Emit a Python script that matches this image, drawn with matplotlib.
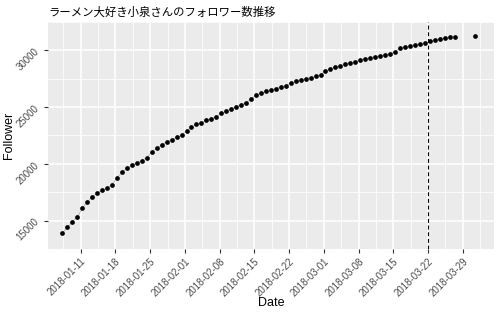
import matplotlib
matplotlib.use("Agg")
import matplotlib.pyplot as plt
import matplotlib.dates as mdates
import numpy as np
import pandas as pd

plt.rcParams['font.family'] = ['Noto Sans CJK JP', 'DejaVu Sans']

# ---- data ----
start_dates = pd.date_range("2018-01-07 08:00", "2018-03-27 08:00", freq="D")
followers_daily = [
    13925, 14400, 14908, 15295, 16110, 16640, 17060, 17440, 17665, 17875,
    18170, 18785, 19250, 19595, 19865, 20100, 20285, 20550, 21050, 21370,
    21680, 21935, 22135, 22330, 22520, 22890, 23225, 23480, 23645, 23840,
    23985, 24120, 24455, 24655, 24840, 25045, 25215, 25395, 25690, 26050,
    26250, 26385, 26500, 26640, 26780, 26890, 27120, 27260, 27370, 27510,
    27595, 27705, 27830, 28180, 28380, 28500, 28655, 28770, 28880, 28990,
    29135, 29245, 29360, 29445, 29530, 29615, 29720, 29890, 30170, 30310,
    30395, 30470, 30540, 30620, 30790, 30955, 31010, 31095, 31175, 31210,
]
extra_date = [pd.Timestamp("2018-03-31 12:00")]
extra_follower = [31295]
vline_date = pd.Timestamp("2018-03-22")
x_ticks = pd.date_range("2018-01-11", "2018-03-29", freq="7D")
y_ticks = [15000, 20000, 25000, 30000]
title = "ラーメン大好き小泉さんのフォロワー数推移"

dates = list(start_dates) + extra_date
values = followers_daily + extra_follower

fig = plt.figure(figsize=(5.0, 3.13), dpi=100)
W, H = 500, 313
L, R, T, B = 48, 494, 22, 249
ax = fig.add_axes([L / W, 1 - B / H, (R - L) / W, (B - T) / H])
ax.set_facecolor("#EBEBEB")
for s in ax.spines.values():
    s.set_visible(False)

# limits (ggplot-like expansion)
vmin, vmax = min(values), max(values)
pad = 0.05 * (vmax - vmin)
ax.set_ylim(vmin - pad, vmax + pad)
x0 = mdates.date2num(pd.Timestamp("2018-01-04 10:00"))
x1 = mdates.date2num(pd.Timestamp("2018-04-04 07:00"))
ax.set_xlim(x0, x1)

# grid
ax.set_yticks(y_ticks)
ax.set_yticks([12500, 17500, 22500, 27500, 32500], minor=True)
xt = mdates.date2num(x_ticks)
ax.set_xticks(xt)
minor_x = list(xt - 3.5) + [xt[-1] + 3.5]
ax.set_xticks(minor_x, minor=True)
ax.grid(which="major", color="white", linewidth=1.1)
ax.grid(which="minor", color="white", linewidth=0.55)
ax.set_axisbelow(True)

sans = ["Liberation Sans", "DejaVu Sans"]
ax.set_yticklabels([str(v) for v in y_ticks], rotation=45, fontsize=7,
                   color="#4D4D4D", family=sans)
ax.set_xticklabels([d.strftime("%Y-%m-%d") for d in x_ticks], rotation=45,
                   ha="right", rotation_mode="anchor", fontsize=7,
                   color="#4D4D4D", family=sans)
ax.tick_params(which="major", length=3, color="#333333", width=0.8, pad=2)
ax.tick_params(which="minor", length=0)

# marks
ax.plot(mdates.date2num(start_dates), followers_daily, color="#999999",
        linewidth=0.4, zorder=2)
ax.plot(mdates.date2num(dates), values, "o", color="black", markersize=3.4,
        markeredgewidth=0, zorder=3)
ax.axvline(mdates.date2num(vline_date), color="black", linestyle=(0, (3.5, 2.5)),
           linewidth=0.8, zorder=4)

fig.text((L + R) / 2 / W, 1 - 303.5 / H, "Date", fontsize=9, family=sans,
         ha="center", va="center")
fig.text(9 / W, 1 - (T + B) / 2 / H, "Follower", fontsize=9, family=sans,
         ha="center", va="center", rotation=90)
fig.text(L / W, 1 - 16 / H, title, fontsize=8.2, ha="left", va="baseline")

fig.savefig("out.png", dpi=100)
